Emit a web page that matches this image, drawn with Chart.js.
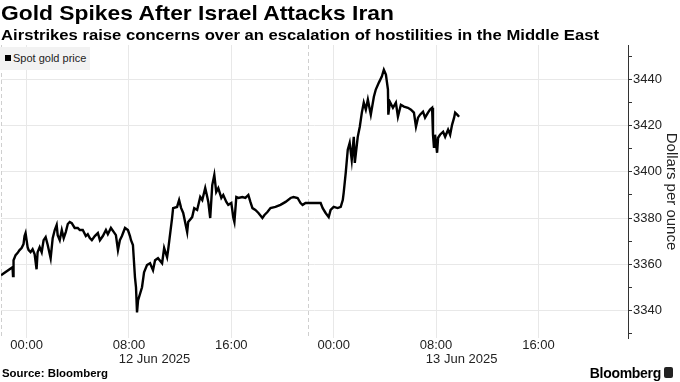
<!DOCTYPE html>
<html>
<head>
<meta charset="utf-8">
<script src="https://cdn.jsdelivr.net/npm/chart.js@4.4.1/dist/chart.umd.min.js"></script>
<style>
  html, body { margin: 0; padding: 0; background: #fff; }
  body { width: 680px; height: 382px; position: relative; overflow: hidden; font-family: "Liberation Sans", Arial, sans-serif; color: #000; }
  #chart { position: absolute; left: 0; top: 0; }
  .fit { position: absolute; left: 1px; white-space: nowrap; transform-origin: 0 0; font-weight: bold; }
  #title { top: 1px; font-size: 21px; line-height: 24px; }
  #subtitle { top: 26px; font-size: 15px; line-height: 18px; }
  #source { top: 367px; left: 2px; font-size: 11px; line-height: 13px; }
  #legend { position: absolute; left: 0; top: 47px; width: 90px; height: 23px; background: #f2f2f2; font-size: 11px; line-height: 23px; }
  #legend i { position: absolute; left: 5px; top: 8px; width: 6px; height: 6px; background: #000; }
  #legend span { position: absolute; left: 13px; top: 0; color: #222; }
  #brand { position: absolute; right: 19px; top: 365px; font-size: 14px; line-height: 16px; font-weight: bold; letter-spacing: -0.3px; }
  #brandIcon { position: absolute; left: 664px; top: 367px; width: 9px; height: 11px; background: #222; border-radius: 2px; }
</style>
</head>
<body>
<canvas id="chart" width="680" height="382"></canvas>
<div id="title" class="fit" data-w="393">Gold Spikes After Israel Attacks Iran</div>
<div id="subtitle" class="fit" data-w="598">Airstrikes raise concerns over an escalation of hostilities in the Middle East</div>
<div id="legend"><i></i><span>Spot gold price</span></div>
<div id="source" class="fit" data-w="106">Source: Bloomberg</div>
<div id="brand">Bloomberg</div>
<div id="brandIcon"></div>
<script>
// hours from 12 Jun 2025 00:00
const hours = [
  -2.00, -1.10, -1.06, -1.02, -0.86, -0.71, -0.55, -0.39, -0.24, -0.16, -0.08,
  0.00, 0.08, 0.16, 0.31, 0.47, 0.63, 0.78, 0.86, 1.02, 1.18, 1.33, 1.49, 1.65, 1.88,
  2.04, 2.20, 2.35, 2.43, 2.59, 2.75, 2.90, 3.06, 3.22, 3.37, 3.53, 3.76, 4.00, 4.16,
  4.39, 4.63, 4.78, 4.94, 5.10, 5.33, 5.57, 5.73, 5.96, 6.20, 6.35, 6.59, 6.82, 6.98,
  7.14, 7.29, 7.45, 7.69, 7.92, 8.08, 8.16, 8.31, 8.47, 8.55, 8.63, 8.71, 9.02, 9.18,
  9.41, 9.65, 9.88, 10.04, 10.27, 10.59, 10.75, 10.98, 11.06, 11.37, 11.45, 11.76, 11.92,
  12.08, 12.24, 12.55, 12.63, 12.94, 13.10, 13.33, 13.57, 13.73, 13.96, 14.12, 14.20,
  14.35, 14.51, 14.67, 14.82, 14.98, 15.22, 15.37, 15.61, 15.76, 16.00, 16.16, 16.24,
  16.39, 16.55, 16.86, 17.10, 17.33, 17.49, 17.65, 17.88, 18.12, 18.43, 18.59, 18.82,
  19.06, 19.45, 19.84, 20.24, 20.63, 20.86, 21.18, 21.41, 21.57, 21.80,
  22.98, 23.14, 23.37, 23.61, 23.76, 24.00, 24.31, 24.55, 24.71, 24.78, 24.94, 25.10,
  25.25, 25.41, 25.57, 25.65, 25.88, 26.04, 26.20, 26.35, 26.51, 26.67, 26.90, 27.14,
  27.29, 27.53, 27.76, 27.92, 28.08, 28.24, 28.27, 28.39, 28.63, 28.86, 29.02, 29.25,
  29.49, 29.80, 30.04, 30.27, 30.43, 30.59, 30.75, 30.98, 31.14, 31.37, 31.53, 31.69,
  31.76, 31.84, 31.92, 32.08, 32.16, 32.31, 32.55, 32.71, 32.94, 33.10, 33.25, 33.41,
  33.49, 33.65, 33.80
];
const prices = [
  3355.2, 3358.7, 3354.8, 3361.7, 3363.9, 3364.8, 3366.1, 3367.0, 3368.7, 3372.2, 3373.5,
  3370.4, 3367.4, 3366.1, 3365.2, 3366.5, 3364.3, 3357.8, 3365.2, 3367.4, 3365.2, 3370.4, 3371.7, 3368.3, 3362.6,
  3371.3, 3374.8, 3377.0, 3372.6, 3370.4, 3374.8, 3371.3, 3373.9, 3377.4, 3378.3, 3377.8, 3375.7, 3375.7, 3374.8,
  3374.8, 3372.2, 3373.0, 3371.3, 3370.4, 3372.2, 3373.5, 3370.4, 3372.2, 3374.8, 3373.0, 3375.7, 3373.9, 3372.6,
  3366.1, 3370.4, 3372.2, 3375.7, 3374.8, 3372.2, 3370.4, 3368.3, 3354.3, 3350.0, 3339.1, 3344.3, 3350.0, 3356.5,
  3359.6, 3360.4, 3357.4, 3361.7, 3362.6, 3360.4, 3367.0, 3363.0, 3366.1, 3380.0, 3384.3, 3384.8, 3387.8,
  3384.3, 3382.2, 3373.9, 3378.3, 3380.4, 3384.3, 3383.5, 3389.1, 3387.8, 3393.0, 3389.1, 3387.0,
  3380.0, 3394.3, 3398.7, 3391.3, 3393.0, 3388.7, 3390.0, 3387.0, 3385.7, 3386.5, 3380.0, 3378.3,
  3389.1, 3388.7, 3389.1, 3388.7, 3390.0, 3387.0, 3384.3, 3383.5, 3382.2, 3380.0, 3381.3, 3382.6,
  3384.3, 3384.8, 3385.7, 3387.0, 3388.7, 3389.1, 3388.7, 3386.5, 3385.7, 3386.5,
  3386.5, 3384.3, 3382.2, 3380.4, 3383.5, 3384.8, 3384.3, 3384.8, 3387.8, 3390.9, 3399.6, 3409.6,
  3412.6, 3405.2, 3415.2, 3403.9, 3415.2, 3419.6, 3425.7, 3430.0, 3427.0, 3431.3, 3424.8, 3432.6,
  3435.7, 3438.7, 3441.3, 3444.3, 3442.2, 3435.7, 3424.8, 3430.4, 3427.8, 3430.0, 3423.9, 3429.1,
  3428.3, 3427.8, 3427.0, 3425.7, 3419.6, 3423.5, 3424.8, 3426.1, 3423.5, 3425.7, 3427.0, 3427.8,
  3416.1, 3410.4, 3416.1, 3408.3, 3414.8, 3416.1, 3417.4, 3415.2, 3418.3, 3416.1, 3420.4, 3423.5,
  3425.7, 3424.8, 3423.9
];

const xTickHours = [0, 8, 16, 24, 32, 40];
const xTickLabels = ['00:00', '08:00', '16:00', '00:00', '08:00', '16:00'];
const dateLabels = ['12 Jun 2025', '13 Jun 2025'];
const dateLabelHours = [10, 34];
const sessionBreaks = [-2, 22];
const yTickValues = [3330, 3340, 3350, 3360, 3370, 3380, 3390, 3400, 3410, 3420, 3430, 3440, 3450];
const yLabelStep = 20;

// fit headline widths
document.querySelectorAll('.fit').forEach(el => {
    const w = el.getBoundingClientRect().width;
    el.style.transform = 'scaleX(' + (parseFloat(el.dataset.w) / w) + ')';
});

const tickFont = { family: '"Liberation Sans", Arial, sans-serif', size: 13 };

const sessionLines = {
    id: 'sessionLines',
    beforeDatasetsDraw(chart) {
        const { ctx, chartArea, scales: { x } } = chart;
        ctx.save();
        ctx.strokeStyle = '#cfcfcf';
        ctx.lineWidth = 1;
        ctx.setLineDash([4, 3]);
        sessionBreaks.forEach(h => {
            const px = Math.round(x.getPixelForValue(h)) + 0.5;
            ctx.beginPath();
            ctx.moveTo(px, chartArea.top);
            ctx.lineTo(px, chartArea.bottom);
            ctx.stroke();
        });
        ctx.restore();
    }
};

const dateLabelsPlugin = {
    id: 'dateLabels',
    afterDraw(chart) {
        const { ctx, scales: { x } } = chart;
        ctx.save();
        ctx.font = '13px "Liberation Sans", Arial, sans-serif';
        ctx.fillStyle = '#222';
        ctx.textAlign = 'center';
        ctx.textBaseline = 'middle';
        dateLabelHours.forEach((h, i) => {
            ctx.fillText(dateLabels[i], x.getPixelForValue(h), x.top + 21);
        });
        ctx.restore();
    }
};

new Chart(document.getElementById('chart'), {
    type: 'line',
    data: {
        datasets: [{
            label: 'Spot gold price',
            data: hours.map((h, i) => ({ x: h, y: prices[i] })),
            borderColor: '#000',
            borderWidth: 2.4,
            pointRadius: 0,
            tension: 0
        }]
    },
    options: {
        responsive: false,
        animation: false,
        layout: { padding: { top: 45, left: 1, right: 0, bottom: 0 } },
        plugins: {
            legend: { display: false },
            tooltip: { enabled: false }
        },
        scales: {
            x: {
                type: 'linear',
                min: -2,
                max: 47,
                afterBuildTicks: s => { s.ticks = xTickHours.map(v => ({ value: v })); },
                afterFit: s => { s.height = 44; },
                grid: { color: '#e8e8e8', drawTicks: false },
                border: { display: false },
                ticks: {
                    autoSkip: false,
                    maxRotation: 0,
                    padding: 0,
                    color: '#222',
                    font: tickFont,
                    callback: (v, i) => xTickLabels[i]
                }
            },
            y: {
                position: 'right',
                min: 3328,
                max: 3455,
                afterBuildTicks: s => { s.ticks = yTickValues.map(v => ({ value: v })); },
                afterFit: s => { s.width = 52; },
                grid: {
                    color: c => (c.tick && c.tick.value % yLabelStep === 0) ? '#e8e8e8' : 'rgba(0,0,0,0)',
                    tickColor: '#333',
                    tickLength: 4
                },
                border: { display: true, color: '#333' },
                ticks: {
                    padding: 1,
                    color: '#222',
                    font: tickFont,
                    callback: v => (v % yLabelStep === 0 ? v : '')
                },
                title: {
                    display: true,
                    text: 'Dollars per ounce',
                    color: '#222',
                    font: { family: '"Liberation Sans", Arial, sans-serif', size: 15 },
                    padding: 0
                }
            }
        }
    },
    plugins: [sessionLines, dateLabelsPlugin]
});
</script>
</body>
</html>
